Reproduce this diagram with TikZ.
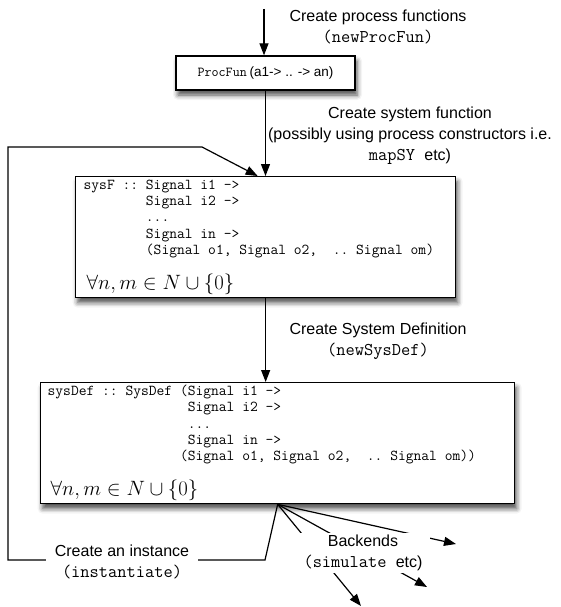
\documentclass[tikz,border=0pt]{standalone}
\usepackage[no-math]{fontspec}
\setmainfont{Liberation Sans}
\setmonofont{Latin Modern Mono}[Scale=1.12]
\usetikzlibrary{arrows.meta,shadows.blur,calc}
\begin{document}
\begin{tikzpicture}[x=1pt,y=-1pt,
  every node/.style={execute at begin node={\spaceskip=0pt\xspaceskip=0pt}},
  box/.style={draw, line width=1.3pt, fill=white,
    blur shadow={shadow xshift=2pt, shadow yshift=-5pt, shadow blur radius=5pt, shadow opacity=70}},
  codebox/.style={box, anchor=north west, inner ysep=0pt, align=left,
    font=\fontsize{13.5}{16.3}\ttfamily},
  arr/.style={line width=1.2pt, -{Triangle[length=12pt,width=9pt]}},
  lbl/.style={align=center, font=\fontsize{16}{21}\selectfont, inner sep=2pt}]
\useasboundingbox (0,0) rectangle (560,607);

% boxes
\node[box, minimum width=179pt, minimum height=34pt, inner sep=0pt] (procfun) at (265.5,73)
  {{\fontsize{12.2}{14}\ttfamily ProcFun} {\fontsize{13.5}{16}\selectfont (a1-> .. -> an)}};

\node[codebox, minimum width=380pt, minimum height=121pt, text width=364pt, inner xsep=8pt] (sysF) at (75,176)
  {\mbox{sysF :: Signal i1 ->}\\
   \mbox{~~~~~~~~Signal i2 ->}\\
   \mbox{~~~~~~~~...}\\
   \mbox{~~~~~~~~Signal in ->}\\
   \mbox{~~~~~~~~(Signal o1, Signal o2,~~.. Signal om)}\\[15pt]
   \mbox{\hspace*{3pt}\fontsize{20}{24}\selectfont $\forall n,m\in N\cup\{0\}$}};

\node[codebox, minimum width=474pt, minimum height=121pt, text width=460pt, inner xsep=7pt] (sysDef) at (40,382)
  {\mbox{sysDef :: SysDef (Signal i1 ->}\\
   \mbox{~~~~~~~~~~~~~~~~~~Signal i2 ->}\\
   \mbox{~~~~~~~~~~~~~~~~~~...}\\
   \mbox{~~~~~~~~~~~~~~~~~~Signal in ->}\\
   \mbox{~~~~~~~~~~~~~~~~~(Signal o1, Signal o2,~~.. Signal om))}\\[15pt]
   \mbox{\hspace*{3pt}\fontsize{20}{24}\selectfont $\forall n,m\in N\cup\{0\}$}};

% coordinates
\coordinate (top) at (264,9);
\coordinate (i1) at (265,560);
\coordinate (i2) at (8,560);
\coordinate (i3) at (8,147);
\coordinate (i4) at (202,147);
\coordinate (b1) at (361,606);
\coordinate (b2) at (427,587);
\coordinate (b3) at (456,544);

% connectors
\draw[arr] (top) -- (top |- procfun.north);
\draw[arr] (procfun.south) -- (procfun.south |- sysF.north);
\draw[arr] (sysF.south) -- (sysF.south |- sysDef.north);
\draw[arr] (sysDef.south) -- (i1) -- (i2) -- (i3) -- (i4) -- ($(sysF.north)+(-8,0)$);
\draw[arr] (sysDef.south) -- (b1);
\draw[arr] (sysDef.south) -- (b2);
\draw[arr] (sysDef.south) -- (b3);

% labels
\node[lbl] (l1) at (378,27) {Create process functions\\\texttt{(newProcFun)}};
\node[lbl] (l2) at (410,136) {Create system function\\(possibly using process constructors i.e.\\\texttt{mapSY\ }etc)};
\node[lbl] (l3) at (378,341) {Create System Definition\\\texttt{(newSysDef)}};
\node[lbl, fill=white, inner xsep=9pt] (l4) at (122,562) {Create an instance\\\texttt{(instantiate)}};
\node[lbl, fill=white, inner xsep=8pt] (l5) at (363,553) {Backends\\\texttt{(simulate }etc)};
\end{tikzpicture}
\end{document}
